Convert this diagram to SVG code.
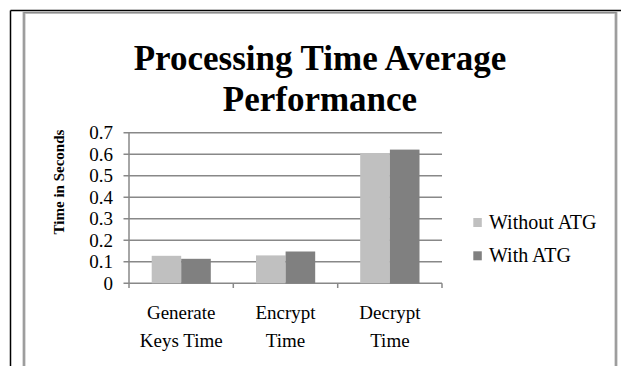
<svg xmlns="http://www.w3.org/2000/svg" width="621" height="366" viewBox="0 0 621 366">
  <style>
    .title { font-family: "Liberation Serif", "Times New Roman", serif; font-weight: bold; font-size: 35px; fill: #000; text-anchor: middle; }
    .tick { font-family: "Liberation Serif", "Times New Roman", serif; font-size: 19px; fill: #000; text-anchor: end; }
    .cat { font-family: "Liberation Serif", "Times New Roman", serif; font-size: 19px; fill: #000; text-anchor: middle; }
    .leg { font-family: "Liberation Serif", "Times New Roman", serif; font-size: 20px; fill: #000; }
    .axtitle { font-family: "Liberation Serif", "Times New Roman", serif; font-weight: bold; font-size: 15px; fill: #000; text-anchor: middle; }
    .grid { stroke: #888; stroke-width: 1.5; fill: none; }
    .axis { stroke: #888; stroke-width: 1.5; fill: none; }
    .s1 { fill: #c0c0c0; }
    .s2 { fill: #808080; }
  </style>

  <rect x="0" y="0" width="621" height="366" fill="#fff"/>

  <!-- page frame lines -->
  <g id="frame">
    <line x1="10.5" y1="10.5" x2="621" y2="10.5" stroke="#000" stroke-width="1.5"/>
    <line x1="10.5" y1="10.5" x2="10.5" y2="366" stroke="#000" stroke-width="1.5"/>
    <path d="M24 372 V12.5 H616 V372" fill="none" stroke="#b8b8b8" stroke-width="3"/>
    <path d="M24 372 V12.5 H616 V372" fill="none" stroke="#8c8c8c" stroke-width="1.2"/>
  </g>

  <!-- chart title -->
  <g id="title">
    <text class="title" x="320" y="70">Processing Time Average</text>
    <text class="title" x="320" y="111">Performance</text>
  </g>

  <!-- gridlines, axes and ticks -->
  <g id="connectors">
    <line class="grid" x1="123.5" y1="132.8" x2="442" y2="132.8"/>
    <line class="grid" x1="123.5" y1="154.3" x2="442" y2="154.3"/>
    <line class="grid" x1="123.5" y1="175.8" x2="442" y2="175.8"/>
    <line class="grid" x1="123.5" y1="197.3" x2="442" y2="197.3"/>
    <line class="grid" x1="123.5" y1="218.8" x2="442" y2="218.8"/>
    <line class="grid" x1="123.5" y1="240.3" x2="442" y2="240.3"/>
    <line class="grid" x1="123.5" y1="261.8" x2="442" y2="261.8"/>
    <line class="axis" x1="129" y1="132.8" x2="129" y2="288"/>
    <line class="axis" x1="123.5" y1="283.3" x2="442" y2="283.3"/>
    <line class="axis" x1="233.3" y1="283.3" x2="233.3" y2="288"/>
    <line class="axis" x1="337.7" y1="283.3" x2="337.7" y2="288"/>
    <line class="axis" x1="442" y1="283.3" x2="442" y2="288"/>
  </g>

  <!-- value axis labels -->
  <g id="y-axis">
    <text class="tick" x="113" y="139">0.7</text>
    <text class="tick" x="113" y="160.5">0.6</text>
    <text class="tick" x="113" y="182">0.5</text>
    <text class="tick" x="113" y="203.5">0.4</text>
    <text class="tick" x="113" y="225">0.3</text>
    <text class="tick" x="113" y="246.5">0.2</text>
    <text class="tick" x="113" y="268">0.1</text>
    <text class="tick" x="113" y="289.5">0</text>
    <text class="axtitle" transform="translate(64 182) rotate(-90)">Time in Seconds</text>
  </g>

  <!-- bars per category -->
  <g id="generate-keys">
    <rect class="s1" x="151.7" y="255.8" width="29.5" height="27.5"/>
    <rect class="s2" x="181.2" y="258.8" width="29.6" height="24.5"/>
    <text class="cat" x="181.2" y="319">Generate</text>
    <text class="cat" x="181.2" y="347">Keys Time</text>
  </g>
  <g id="encrypt">
    <rect class="s1" x="256" y="255.4" width="29.6" height="27.9"/>
    <rect class="s2" x="285.6" y="251.5" width="29.6" height="31.8"/>
    <text class="cat" x="285.5" y="319">Encrypt</text>
    <text class="cat" x="285.5" y="347">Time</text>
  </g>
  <g id="decrypt">
    <rect class="s1" x="360.2" y="153.2" width="29.7" height="130.1"/>
    <rect class="s2" x="389.9" y="149.6" width="29.6" height="133.7"/>
    <text class="cat" x="389.9" y="319">Decrypt</text>
    <text class="cat" x="389.9" y="347">Time</text>
  </g>

  <!-- legend -->
  <g id="legend">
    <rect class="s1" x="473.3" y="218" width="8.5" height="9"/>
    <text class="leg" x="489" y="229">Without ATG</text>
    <rect class="s2" x="473.3" y="251.3" width="8.5" height="9"/>
    <text class="leg" x="489" y="262">With ATG</text>
  </g>
</svg>
